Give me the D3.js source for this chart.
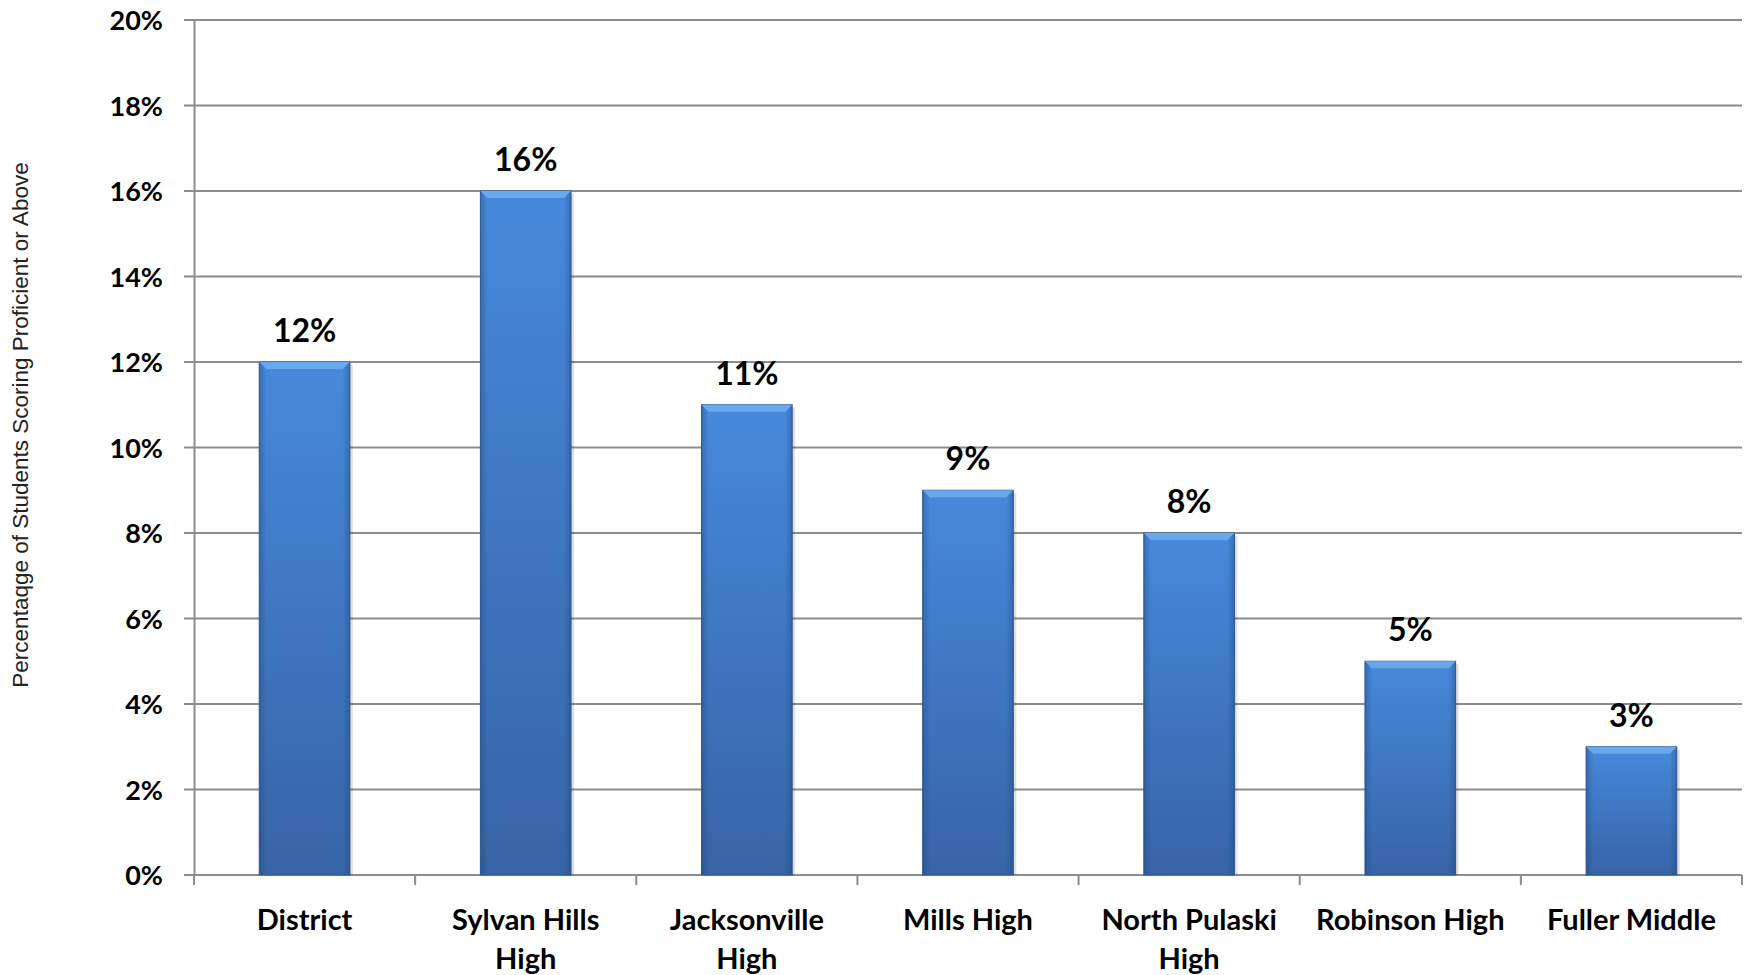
<!DOCTYPE html>
<html>
<head>
<meta charset="utf-8">
<script src="https://cdn.jsdelivr.net/npm/d3@7"></script>
<style>
  body { margin: 0; background: #fff; }
  .tick text { font-family: Lato, "Open Sans", sans-serif; font-weight: bold; fill: #000; }
</style>
</head>
<body>
<script>
var categories = ["District", "Sylvan Hills High", "Jacksonville High", "Mills High", "North Pulaski High", "Robinson High", "Fuller Middle"];
var values = [12, 16, 11, 9, 8, 5, 3];
var yTicks = [0, 2, 4, 6, 8, 10, 12, 14, 16, 18, 20];
var yTitle = "Percentaqge of Students Scoring Proficient or Above";

var width = 1744, height = 975;
var margin = { top: 20, right: 2, bottom: 100, left: 194 };
var plotW = width - margin.left - margin.right,
    plotH = height - margin.top - margin.bottom;

var svg = d3.select("body").append("svg")
    .attr("width", width)
    .attr("height", height);

//bar gradient + bevel
var defs = svg.append("defs");
var grad = defs.append("linearGradient")
    .attr("id", "barGrad")
    .attr("x1", 0).attr("y1", 0).attr("x2", 0).attr("y2", 1);
grad.append("stop").attr("offset", "0%").attr("stop-color", "#4689db");
grad.append("stop").attr("offset", "100%").attr("stop-color", "#3764a6");

var side = defs.append("linearGradient")
    .attr("id", "sideGrad")
    .attr("x1", 0).attr("y1", 0).attr("x2", 1).attr("y2", 0);
side.append("stop").attr("offset", "0%").attr("stop-color", "#1d3f70").attr("stop-opacity", 0.35);
side.append("stop").attr("offset", "8%").attr("stop-color", "#1d3f70").attr("stop-opacity", 0);
side.append("stop").attr("offset", "92%").attr("stop-color", "#1d3f70").attr("stop-opacity", 0);
side.append("stop").attr("offset", "100%").attr("stop-color", "#1d3f70").attr("stop-opacity", 0.35);

var g = svg.append("g")
    .attr("transform", "translate(" + margin.left + "," + margin.top + ")");

var x = d3.scaleBand()
    .domain(categories)
    .range([0, plotW])
    .paddingInner(0.59)
    .paddingOuter(0.295);

var y = d3.scaleLinear()
    .domain([0, 20])
    .range([plotH, 0]);

//gridlines
g.selectAll(".grid")
    .data(yTicks)
    .enter()
    .append("line")
    .attr("class", "grid")
    .attr("x1", -10)
    .attr("x2", plotW)
    .attr("y1", function (d) { return y(d); })
    .attr("y2", function (d) { return y(d); })
    .attr("stroke", "#8c8c8c")
    .attr("stroke-width", 2);

//y axis
var yAxis = g.append("g")
    .call(d3.axisLeft(y)
        .tickValues(yTicks)
        .tickSize(0)
        .tickPadding(31)
        .tickFormat(function (d) { return d + "%"; }));
yAxis.select(".domain").attr("stroke", "#8c8c8c").attr("stroke-width", 2);
yAxis.selectAll(".tick text").attr("font-size", 27).attr("dy", "0.36em");

//x axis
var xAxis = g.append("g")
    .attr("transform", "translate(0," + plotH + ")")
    .call(d3.axisBottom(x).tickSize(0).tickPadding(34));
xAxis.select(".domain").remove();
xAxis.selectAll(".tick text").attr("font-size", 29).call(wrap, 205);

//category boundary ticks
var bounds = d3.range(categories.length + 1);
g.selectAll(".xtick")
    .data(bounds)
    .enter()
    .append("line")
    .attr("class", "xtick")
    .attr("x1", function (i) { return i * x.step(); })
    .attr("x2", function (i) { return i * x.step(); })
    .attr("y1", plotH)
    .attr("y2", plotH + 10)
    .attr("stroke", "#8c8c8c")
    .attr("stroke-width", 2);

//bars
var bars = g.selectAll(".bar")
    .data(values)
    .enter()
    .append("g")
    .attr("class", "bar");

bars.append("rect")
    .attr("x", function (d, i) { return x(categories[i]) + 3; })
    .attr("y", function (d) { return y(d) + 3; })
    .attr("width", x.bandwidth())
    .attr("height", function (d) { return plotH - y(d) - 3; })
    .attr("fill", "#000")
    .attr("opacity", 0.12);

bars.append("rect")
    .attr("x", function (d, i) { return x(categories[i]); })
    .attr("y", function (d) { return y(d); })
    .attr("width", x.bandwidth())
    .attr("height", function (d) { return plotH - y(d); })
    .attr("fill", "url(#barGrad)")
    .attr("stroke", "#2f5a96")
    .attr("stroke-width", 1);

bars.append("rect")
    .attr("x", function (d, i) { return x(categories[i]); })
    .attr("y", function (d) { return y(d); })
    .attr("width", x.bandwidth())
    .attr("height", function (d) { return plotH - y(d); })
    .attr("fill", "url(#sideGrad)");

//top bevel
bars.append("path")
    .attr("d", function (d, i) {
        var x0 = x(categories[i]), x1 = x0 + x.bandwidth(), t = y(d), b = 7;
        return "M" + x0 + "," + t + "L" + x1 + "," + t + "L" + (x1 - b) + "," + (t + b) +
            "L" + (x0 + b) + "," + (t + b) + "Z";
    })
    .attr("fill", "#6aa8ec");

//value labels
g.selectAll(".label")
    .data(values)
    .enter()
    .append("text")
    .attr("class", "label")
    .attr("x", function (d, i) { return x(categories[i]) + x.bandwidth() / 2; })
    .attr("y", function (d) { return y(d) - 20; })
    .attr("text-anchor", "middle")
    .attr("font-family", "Lato, 'Open Sans', sans-serif")
    .attr("font-weight", "bold")
    .attr("font-size", 32)
    .text(function (d) { return d + "%"; });

//y axis title
svg.append("text")
    .attr("transform", "translate(28,425) rotate(-90)")
    .attr("text-anchor", "middle")
    .attr("font-family", "'Liberation Sans', Arial, sans-serif")
    .attr("font-size", 22.5)
    .attr("fill", "#222")
    .text(yTitle);

function wrap(texts, w) {
    texts.each(function () {
        var text = d3.select(this),
            words = text.text().split(/\s+/).reverse(),
            word, line = [], lineNumber = 0,
            lineHeight = 39 / 29,
            yy = text.attr("y"),
            dy = parseFloat(text.attr("dy")) || 0,
            tspan = text.text(null).append("tspan").attr("x", 0).attr("y", yy).attr("dy", dy + "em");
        while ((word = words.pop())) {
            line.push(word);
            tspan.text(line.join(" "));
            if (tspan.node().getComputedTextLength() > w && line.length > 1) {
                line.pop();
                tspan.text(line.join(" "));
                line = [word];
                tspan = text.append("tspan").attr("x", 0).attr("y", yy)
                    .attr("dy", (dy + ++lineNumber * lineHeight) + "em").text(word);
            }
        }
    });
}
</script>
</body>
</html>
